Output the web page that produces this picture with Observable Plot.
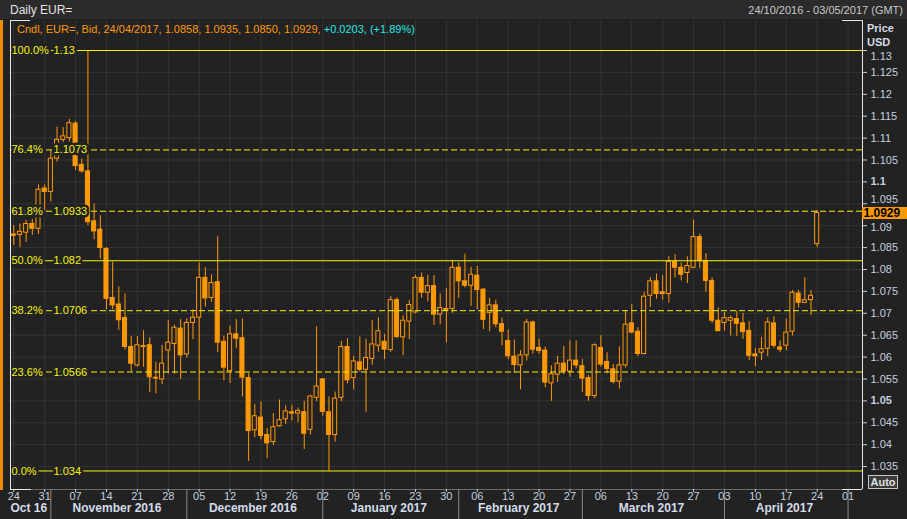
<!DOCTYPE html>
<html><head><meta charset="utf-8">
<script src="https://cdn.jsdelivr.net/npm/d3@7"></script>
<script src="https://cdn.jsdelivr.net/npm/@observablehq/plot@0.6"></script>
<style>
html,body{margin:0;padding:0;background:#212121;}
#wrap{position:relative;width:907px;height:519px;background:#212121;overflow:hidden;font-family:'Liberation Sans',Arial,sans-serif;}
.abs{position:absolute;white-space:nowrap;}
#chart svg{display:block;}
</style></head><body>
<div id="wrap">
  <div class="abs" style="left:0;top:0;width:907px;height:19px;background:#2b2b2b;"></div>
  <div class="abs" style="left:10px;top:3px;font-size:12px;color:#e4e4e4;">Daily EUR=</div>
  <div class="abs" style="right:4px;top:4px;font-size:11px;color:#c8c8c8;">24/10/2016 - 03/05/2017 (GMT)</div>
  <div id="chart" class="abs" style="left:0;top:20px;"></div>
  <div class="abs" style="left:0;top:20px;width:3px;height:470px;background:#f08c00;"></div>
  <div id="info" class="abs" style="left:17px;top:22px;font-size:11px;line-height:14px;"></div>
  <div class="abs" style="left:867px;top:21px;font-size:11px;font-weight:bold;color:#d5dbe6;line-height:14px;">Price<br>USD</div>
  <div class="abs" style="left:868px;top:475px;width:28px;height:12px;border:1px solid #c8c8c8;background:#3a3a3a;color:#e0e0e0;font-size:11px;font-weight:bold;line-height:12px;text-align:center;">Auto</div>
  <div class="abs" style="left:10px;top:20px;width:20px;height:1px;background:#e8e8e8;"></div>
  <div class="abs" style="left:842px;top:20px;width:20px;height:1px;background:#e8e8e8;"></div>
  <div class="abs" style="left:10px;top:489px;width:21px;height:1px;background:#e8e8e8;"></div>
  <div class="abs" style="left:842px;top:489px;width:20px;height:1px;background:#e8e8e8;"></div>
</div>
<script>
// ---- data (daily EUR= candles, 24/10/2016 .. 24/04/2017) ----
const open = [1.0880,1.0879,1.0884,1.0904,1.0893,1.0985,1.0977,1.1053,1.1096,1.1100,
1.1133,1.1039,1.1024,1.0910,1.0891,1.0847,1.0735,1.0720,1.0689,1.0623,
1.0581,1.0623,1.0627,1.0553,1.0549,1.0615,1.0630,1.0665,1.0606,1.0678,
1.0690,1.0781,1.0735,1.0771,1.0635,1.0568,1.0652,1.0643,1.0552,1.0433,
1.0462,1.0422,1.0406,1.0442,1.0458,1.0474,1.0471,1.0474,1.0434,1.0507,
1.0549,1.0474,1.0422,1.0507,1.0623,1.0552,1.0588,1.0571,1.0596,1.0626,
1.0635,1.0616,1.0730,1.0645,1.0681,1.0702,1.0781,1.0747,1.0762,1.0697,
1.0710,1.0710,1.0804,1.0773,1.0763,1.0786,1.0754,1.0701,1.0718,1.0675,
1.0637,1.0601,1.0581,1.0604,1.0679,1.0621,1.0615,1.0540,1.0560,1.0585,
1.0567,1.0592,1.0579,1.0552,1.0511,1.0621,1.0589,1.0572,1.0544,1.0581,
1.0677,1.0658,1.0607,1.0740,1.0773,1.0748,1.0744,1.0817,1.0804,1.0792,
1.0804,1.0874,1.0819,1.0774,1.0683,1.0678,1.0683,1.0687,1.0677,1.0660,
1.0606,1.0610,1.0619,1.0677,1.0622,1.0626,1.0658,1.0745,1.0724,1.0730,
1.0858];
const high = [1.0900,1.0904,1.0912,1.0914,1.0993,1.0993,1.1072,1.1125,1.1124,1.1143,
1.1138,1.1052,1.1300,1.0950,1.0923,1.0850,1.0817,1.0760,1.0744,1.0647,
1.0647,1.0660,1.0644,1.0588,1.0627,1.0684,1.0673,1.0686,1.0688,1.0708,
1.0815,1.0804,1.0788,1.0875,1.0648,1.0671,1.0686,1.0687,1.0562,1.0492,
1.0498,1.0437,1.0471,1.0502,1.0489,1.0490,1.0484,1.0499,1.0513,1.0669,
1.0551,1.0509,1.0520,1.0636,1.0642,1.0602,1.0646,1.0641,1.0684,1.0690,
1.0652,1.0738,1.0735,1.0694,1.0729,1.0787,1.0792,1.0787,1.0786,1.0744,
1.0757,1.0820,1.0815,1.0835,1.0805,1.0807,1.0757,1.0734,1.0730,1.0689,
1.0662,1.0639,1.0615,1.0686,1.0682,1.0641,1.0623,1.0580,1.0602,1.0624,
1.0637,1.0637,1.0595,1.0558,1.0630,1.0649,1.0610,1.0583,1.0623,1.0706,
1.0720,1.0667,1.0748,1.0781,1.0790,1.0786,1.0829,1.0834,1.0815,1.0829,
1.0913,1.0881,1.0836,1.0781,1.0712,1.0702,1.0694,1.0705,1.0700,1.0681,
1.0620,1.0645,1.0690,1.0692,1.0637,1.0687,1.0752,1.0752,1.0781,1.0752,
1.0935];
const low = [1.0855,1.0850,1.0862,1.0878,1.0880,1.0931,1.0954,1.1045,1.1090,1.1091,
1.1026,1.1020,1.0900,1.0868,1.0824,1.0708,1.0708,1.0661,1.0616,1.0566,
1.0577,1.0577,1.0519,1.0516,1.0537,1.0561,1.0561,1.0549,1.0598,1.0640,
1.0501,1.0714,1.0725,1.0611,1.0546,1.0540,1.0619,1.0509,1.0362,1.0416,
1.0411,1.0368,1.0398,1.0440,1.0446,1.0454,1.0450,1.0389,1.0422,1.0498,
1.0465,1.0340,1.0406,1.0498,1.0539,1.0525,1.0566,1.0474,1.0581,1.0611,
1.0594,1.0611,1.0642,1.0603,1.0640,1.0699,1.0734,1.0726,1.0672,1.0674,
1.0632,1.0700,1.0734,1.0758,1.0716,1.0708,1.0663,1.0658,1.0667,1.0626,
1.0594,1.0563,1.0525,1.0591,1.0607,1.0607,1.0530,1.0499,1.0542,1.0560,
1.0554,1.0573,1.0519,1.0499,1.0505,1.0577,1.0562,1.0539,1.0527,1.0575,
1.0653,1.0601,1.0605,1.0713,1.0732,1.0730,1.0723,1.0781,1.0774,1.0768,
1.0802,1.0802,1.0748,1.0677,1.0659,1.0659,1.0648,1.0647,1.0641,1.0592,
1.0578,1.0592,1.0601,1.0620,1.0610,1.0614,1.0648,1.0712,1.0722,1.0695,
1.0850];
const close = [1.0877,1.0886,1.0904,1.0893,1.0982,1.0977,1.1053,1.1096,1.1104,1.1134,
1.1036,1.1024,1.0908,1.0887,1.0849,1.0733,1.0718,1.0684,1.0623,1.0585,
1.0627,1.0625,1.0554,1.0551,1.0585,1.0633,1.0667,1.0604,1.0678,1.0690,
1.0781,1.0734,1.0769,1.0633,1.0576,1.0652,1.0642,1.0553,1.0431,1.0465,
1.0420,1.0403,1.0440,1.0456,1.0476,1.0471,1.0477,1.0425,1.0510,1.0533,
1.0475,1.0422,1.0505,1.0623,1.0547,1.0590,1.0571,1.0598,1.0629,1.0659,
1.0617,1.0730,1.0646,1.0683,1.0719,1.0781,1.0747,1.0762,1.0697,1.0712,
1.0706,1.0804,1.0773,1.0763,1.0788,1.0753,1.0685,1.0718,1.0675,1.0658,
1.0602,1.0582,1.0604,1.0679,1.0617,1.0614,1.0542,1.0561,1.0585,1.0567,
1.0592,1.0581,1.0551,1.0511,1.0627,1.0583,1.0573,1.0543,1.0581,1.0674,
1.0656,1.0607,1.0738,1.0773,1.0744,1.0744,1.0817,1.0804,1.0788,1.0808,
1.0874,1.0819,1.0774,1.0683,1.0659,1.0689,1.0689,1.0676,1.0657,1.0603,
1.0602,1.0618,1.0679,1.0626,1.0617,1.0656,1.0747,1.0724,1.0730,1.0740,
1.0929];
const prevClose = 1.0726;
const priceTickLabels = ["1.035","1.04","1.045","1.05","1.055","1.06","1.065","1.07","1.075","1.08","1.085","1.09","1.095","1.1","1.105","1.11","1.115","1.12","1.125","1.13"];
const boldTickLabels = ["1.1","1.05"];
const weekTickLabels = ["24","31","07","14","21","28","05","12","19","26","02","09","16","23","30","06","13","20","27","06","13","20","27","03","10","17","24","01"];
const monthLabels = ["Oct 16","November 2016","December 2016","January 2017","February 2017","March 2017","April 2017"];
const fibPercents = ["100.0%","76.4%","61.8%","50.0%","38.2%","23.6%","0.0%"];
const fibValues = [1.13,1.1073,1.0933,1.082,1.0706,1.0566,1.034];
const fibLabels = ["1.13","1.1073","1.0933","1.082","1.0706","1.0566","1.034"];
const fibDashed = [false,true,true,false,true,true,false];
const rangeStart = "2016-10-24", rangeEnd = "2017-05-03";

// ---- trading days (weekdays) ----
const days = [];
for (let d = new Date(rangeStart + "T00:00:00Z"); d <= new Date(rangeEnd + "T00:00:00Z"); d.setUTCDate(d.getUTCDate() + 1)) {
  const wd = d.getUTCDay();
  if (wd !== 0 && wd !== 6) days.push(new Date(d));
}
const mondays = days.map((d, i) => i).filter(i => days[i].getUTCDay() === 1);
const monthStarts = days.map((d, i) => i).filter(i => i > 0 && days[i].getUTCMonth() !== days[i - 1].getUTCMonth());

const BG = "#222222", GRID = "#343434", ORANGE = "#ff9900", YEL = "#f4f400", AX = "#c5cfdf";
const pxPerDay = 6.18, pxPerUnit = 4380;
const xDomain = [-0.53, -0.53 + 852 / pxPerDay];
const yDomain = [1.13 - 439 / pxPerUnit, 1.13 + 30 / pxPerUnit];
const dX = 1 / pxPerDay, dY = 1 / pxPerUnit;

const candles = open.map((o, i) => ({i, o, h: high[i], l: low[i], c: close[i]}));
const up = candles.filter(d => d.c >= d.o), down = candles.filter(d => d.c < d.o);
const fibs = fibValues.map((v, k) => ({v, pct: fibPercents[k], label: fibLabels[k], dashed: fibDashed[k]}));
const priceTicks = priceTickLabels.map(Number);
const special = ["1.13", "1.095", "1.09"];
const normalLabels = priceTickLabels.filter(s => !boldTickLabels.includes(s) && !special.includes(s));
const weekTicks = mondays.map((i, k) => ({i, label: weekTickLabels[k]}));
const bounds = [xDomain[0], ...monthStarts];
const months = monthLabels.map((name, k) => ({name, x: (bounds[k] + bounds[k + 1]) / 2 - 0.3}));
const last = candles[candles.length - 1];

const textStyle = {fontSize: 11};
const priceLabel = (labels, dy, extra = {}) => Plot.text(labels, {y: d => +d, text: d => d, frameAnchor: "right", dx: 8, dy, textAnchor: "start", fill: AX, ...textStyle, ...extra});
const chart = Plot.plot({
  width: 907, height: 499,
  marginLeft: 10, marginRight: 45, marginTop: 0, marginBottom: 30,
  x: {type: "linear", domain: xDomain, axis: null},
  y: {type: "linear", domain: yDomain, axis: null},
  style: {background: BG, fontFamily: "'Liberation Sans', Arial, sans-serif", fontSize: "11px", overflow: "visible"},
  marks: [
    Plot.ruleY(priceTicks, {stroke: GRID}),
    Plot.ruleX(mondays, {stroke: GRID}),
    Plot.ruleX(candles, {x: "i", y1: "l", y2: "h", stroke: ORANGE}),
    Plot.rect(down, {x1: d => d.i - 0.33, x2: d => d.i + 0.33, y1: "o", y2: "c", fill: ORANGE, stroke: ORANGE}),
    Plot.rect(up, {x1: d => d.i - 0.33, x2: d => d.i + 0.33, y1: "o", y2: "c", fill: BG, stroke: ORANGE}),
    Plot.ruleY(fibs.filter(f => !f.dashed), {y: "v", stroke: YEL}),
    Plot.ruleY(fibs.filter(f => f.dashed), {y: "v", stroke: YEL, strokeDasharray: "6,3"}),
    Plot.text(fibs, {y: "v", text: "pct", frameAnchor: "left", dx: 1, textAnchor: "start", fill: YEL, stroke: BG, strokeWidth: 5, paintOrder: "stroke", ...textStyle}),
    Plot.text(fibs, {y: "v", text: "label", frameAnchor: "left", dx: 43, textAnchor: "start", fill: YEL, stroke: BG, strokeWidth: 5, paintOrder: "stroke", ...textStyle}),
    // frame
    Plot.ruleY([yDomain[0]], {stroke: "#6a6a6a"}),
    Plot.ruleX(xDomain, {stroke: "#e8e8e8"}),
    // right price axis
    Plot.ruleY(priceTicks, {x1: xDomain[1], x2: xDomain[1] + 5 * dX, stroke: AX}),
    priceLabel(normalLabels, 0),
    priceLabel(boldTickLabels, 0, {fontWeight: "bold"}),
    priceLabel(["1.13"], 6),
    priceLabel(["1.095"], -4),
    priceLabel(["1.09"], 2),
    // last price box
    Plot.ruleY([last.c], {x1: xDomain[1], x2: xDomain[1] + 45 * dX, stroke: ORANGE, strokeWidth: 12}),
    Plot.text([last.c], {y: d => d, text: d => d.toFixed(4), x: xDomain[1], dx: 1, textAnchor: "start", fill: "#000", fontWeight: "bold", fontSize: 12}),
    // bottom time axis
    Plot.ruleX(mondays, {y1: yDomain[0], y2: yDomain[0] - 3 * dY, stroke: AX}),
    Plot.ruleX(monthStarts, {y1: yDomain[0], y2: yDomain[0] - 30 * dY, stroke: "#8a8a8a"}),
    Plot.text(weekTicks, {x: "i", text: "label", frameAnchor: "bottom", dy: 10, fill: AX, ...textStyle}),
    Plot.text(months, {x: "x", text: "name", frameAnchor: "bottom", dy: 22, fill: "#d3dceb", fontWeight: "bold", fontSize: 12})
  ]
});
document.getElementById("chart").appendChild(chart);

const fmtDate = d3.utcFormat("%d/%m/%Y");
const change = last.c - prevClose;
const info = document.getElementById("info");
const s1 = document.createElement("span");
s1.style.color = ORANGE;
s1.textContent = `Cndl, EUR=, Bid, ${fmtDate(days[candles.length - 1])}, ${last.o.toFixed(4)}, ${last.h.toFixed(4)}, ${last.l.toFixed(4)}, ${last.c.toFixed(4)}, `;
const s2 = document.createElement("span");
s2.style.color = "#1ee6e6";
s2.textContent = `+${change.toFixed(4)}, (+${(change / prevClose * 100).toFixed(2)}%)`;
info.appendChild(s1); info.appendChild(s2);
</script>
</body></html>
